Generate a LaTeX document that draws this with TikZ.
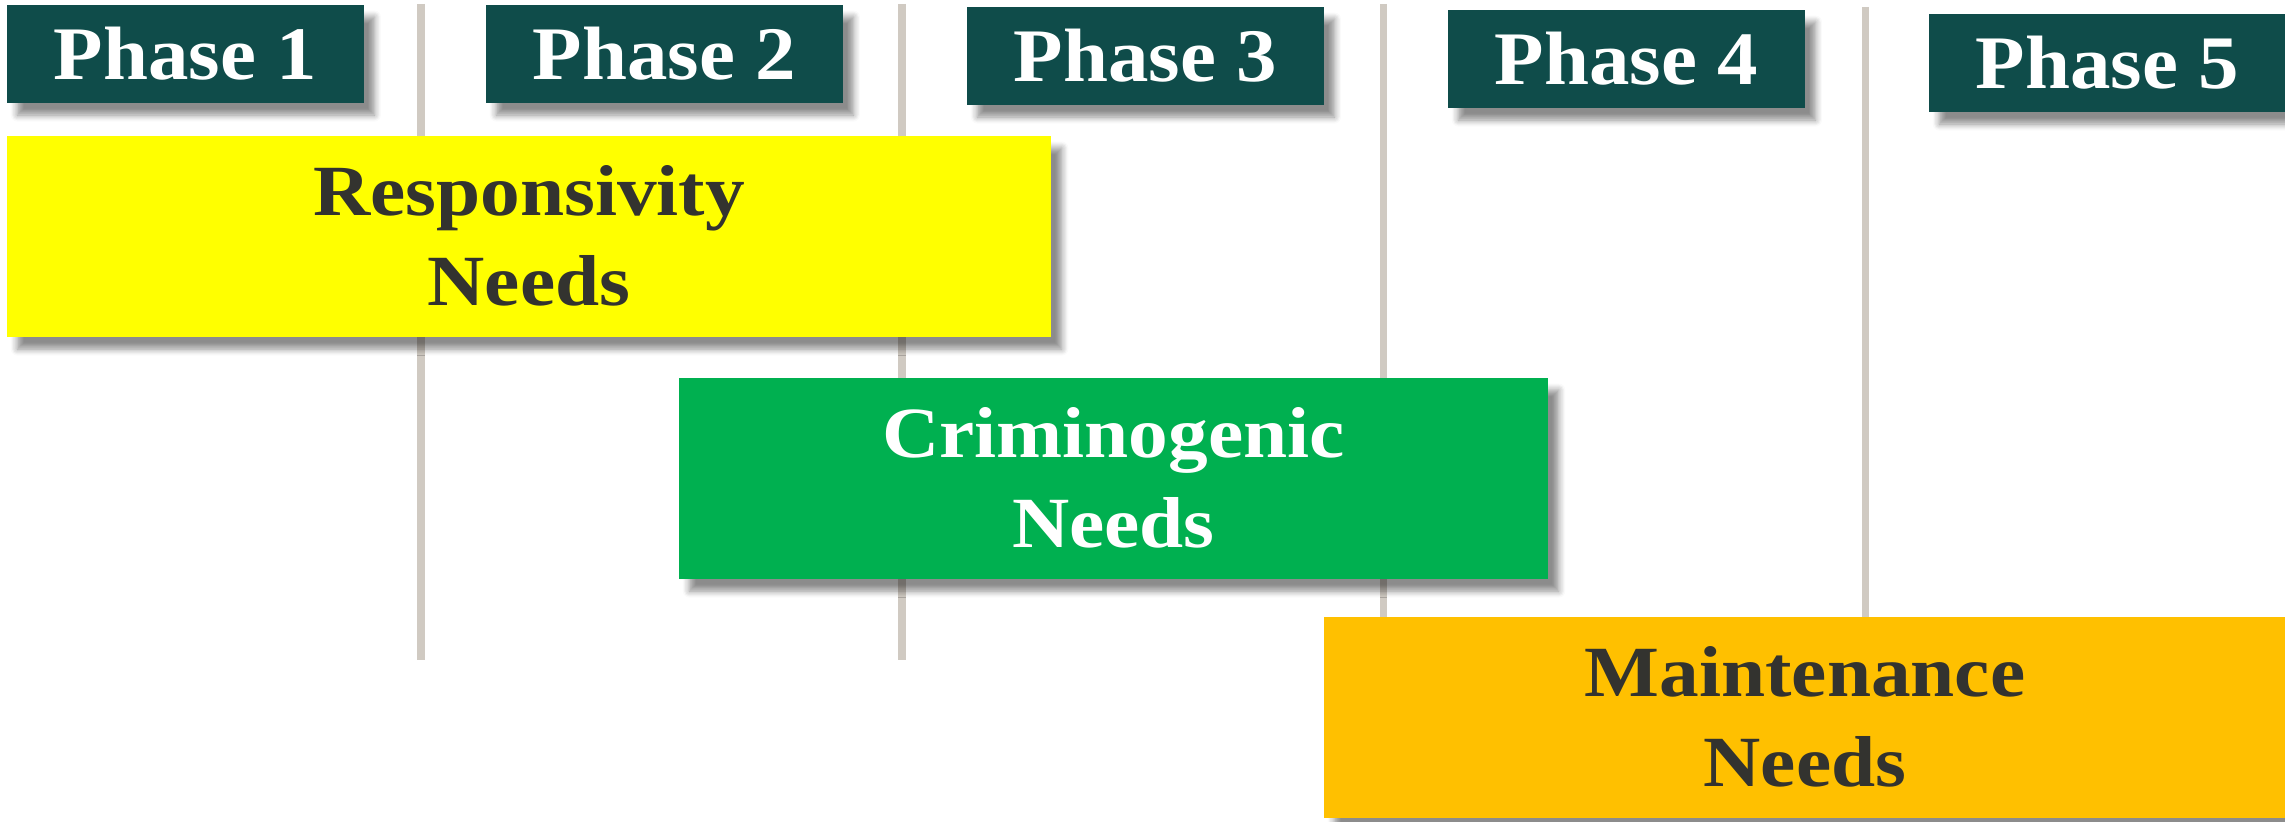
\documentclass[tikz,border=0pt]{standalone}
\usepackage{fontspec}
\setmainfont{Liberation Serif}
\newfontfamily\phasefont[FakeStretch=1.07]{Liberation Serif}
\newfontfamily\needfont[FakeStretch=1.1]{Liberation Serif}
\usepackage{tikz}
\usetikzlibrary{shadows.blur}

\definecolor{phaseteal}{HTML}{0F4C4A}
\definecolor{sepgray}{HTML}{D0CAC2}
\definecolor{respyellow}{HTML}{FFFF00}
\definecolor{crimgreen}{HTML}{00B050}
\definecolor{maintorange}{HTML}{FFC000}
\definecolor{darktext}{HTML}{33332F}

\begin{document}
\begin{tikzpicture}[
        x=0.01cm, y=-0.01cm,
        sepline/.style={sepgray, line width=2pt},
        softshadow/.style={blur shadow={shadow xshift=3pt, shadow yshift=-3.5pt, shadow blur steps=6, shadow opacity=45}},
        phasebox/.style={softshadow, fill=phaseteal, text=white, anchor=north west, inner sep=0pt,
            minimum width=3.57cm, minimum height=0.98cm, font=\phasefont\fontsize{21.5}{26}\selectfont\bfseries},
        needbox/.style={softshadow, anchor=north west, inner sep=0pt, align=center,
            minimum height=2.01cm, font=\needfont\fontsize{20.5}{25.6}\selectfont\bfseries}
    ]
        \useasboundingbox (0,0) rectangle (2285,822);

        % Separators between the phases (behind the boxes)
        \draw[sepline] (421,4) -- (421,660);
        \draw[sepline] (902,4) -- (902,660);
        \draw[sepline] (1383,4) -- (1383,660);
        \draw[sepline] (1865,7) -- (1865,660);

        % Phase headers, each a little lower than the one before
        \node[phasebox] (phase1) at (6,4) {Phase 1};
        \node[phasebox] (phase2) at (485,4) {Phase 2};
        \node[phasebox] (phase3) at (966,6) {Phase 3};
        \node[phasebox] (phase4) at (1447,9) {Phase 4};
        \node[phasebox] (phase5) at (1928,13) {Phase 5};

        % Need bands spanning the phases
        \node[needbox, fill=respyellow, text=darktext, minimum width=10.44cm] (resp) at (6,135) {Responsivity\\Needs};
        \node[needbox, fill=crimgreen, text=white, minimum width=8.69cm] (crim) at (678,377) {Criminogenic\\Needs};
        \node[needbox, fill=maintorange, text=darktext, minimum width=9.62cm] (maint) at (1323,616) {Maintenance\\Needs};
    \end{tikzpicture}
\end{document}
